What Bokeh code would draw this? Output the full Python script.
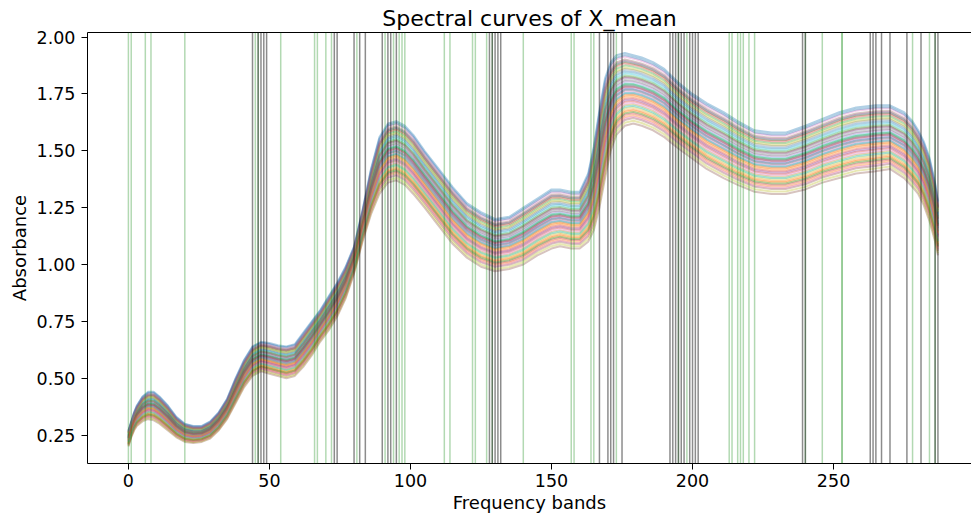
import numpy as np
from bokeh.plotting import figure
from bokeh.models import Span, LinearAxis, FixedTicker, Range1d, ColumnDataSource
from bokeh.embed import file_html
from bokeh.resources import INLINE

# ---- data ----
bands = [0, 1, 2, 3, 5, 7, 9, 11, 14, 17, 20, 23, 26, 29, 32, 35, 38, 41, 44, 47,
         50, 53, 56, 59, 62, 65, 68, 71, 74, 77, 80, 83, 86, 89, 92, 95, 98, 101,
         105, 110, 115, 120, 125, 130, 135, 140, 145, 150, 153, 157, 160, 163, 165,
         167, 169, 171, 173, 176, 179, 182, 186, 190, 195, 200, 205, 211, 216, 222,
         228, 233, 240, 246, 252, 258, 265, 270, 275, 278, 280, 282, 284, 286, 287]

lower_env = [0.20, 0.24, 0.27, 0.29, 0.31, 0.32, 0.315, 0.30, 0.27, 0.24, 0.22, 0.215,
             0.22, 0.235, 0.27, 0.32, 0.39, 0.46, 0.51, 0.53, 0.52, 0.51, 0.50, 0.51,
             0.55, 0.60, 0.66, 0.71, 0.77, 0.85, 0.96, 1.10, 1.22, 1.31, 1.36, 1.37,
             1.35, 1.31, 1.25, 1.17, 1.09, 1.03, 0.99, 0.97, 0.98, 1.00, 1.04, 1.07,
             1.08, 1.07, 1.07, 1.10, 1.15, 1.25, 1.38, 1.50, 1.57, 1.61, 1.62, 1.61,
             1.59, 1.56, 1.51, 1.465, 1.42, 1.38, 1.35, 1.32, 1.31, 1.31, 1.33, 1.36,
             1.38, 1.40, 1.41, 1.42, 1.38, 1.34, 1.31, 1.26, 1.19, 1.10, 1.04]

upper_env = [0.27, 0.31, 0.35, 0.38, 0.42, 0.44, 0.44, 0.42, 0.38, 0.33, 0.30, 0.29,
             0.29, 0.31, 0.35, 0.41, 0.50, 0.58, 0.64, 0.66, 0.655, 0.645, 0.64, 0.65,
             0.70, 0.75, 0.80, 0.86, 0.92, 0.99, 1.08, 1.24, 1.42, 1.56, 1.62, 1.63,
             1.61, 1.57, 1.50, 1.42, 1.34, 1.27, 1.23, 1.20, 1.21, 1.25, 1.29, 1.33,
             1.33, 1.32, 1.32, 1.40, 1.52, 1.68, 1.82, 1.89, 1.92, 1.93, 1.92, 1.91,
             1.89, 1.86, 1.80, 1.75, 1.71, 1.67, 1.63, 1.59, 1.58, 1.58, 1.61, 1.64,
             1.67, 1.69, 1.70, 1.70, 1.67, 1.63, 1.59, 1.54, 1.47, 1.36, 1.28]

# relative position of each sample curve inside the band of curves
sample_levels = [0.50, 0.12, 0.83, 0.37, 0.61, 0.00, 0.95, 0.44, 0.28, 0.72, 0.55, 0.19,
                 0.88, 0.33, 0.66, 0.08, 0.47, 0.78, 0.24, 0.58, 1.00, 0.40, 0.69, 0.15,
                 0.52, 0.91, 0.30, 0.63, 0.04, 0.45, 0.75, 0.21, 0.57, 0.86, 0.35, 0.67,
                 0.10, 0.49, 0.80, 0.26, 0.97, 0.42, 0.17, 0.54, 0.89]

green_bands = [0, 1, 6, 8, 20, 45, 46, 54, 66, 67, 70, 72, 81, 91, 94, 96, 97, 98,
               112, 114, 122, 123, 127, 129, 140, 157, 158, 164, 165, 173, 195, 198,
               213, 214, 216, 217, 218, 220, 222, 240, 246, 253, 253, 278, 284, 286]
black_bands = [44, 46, 47, 48, 49, 73, 74, 80, 82, 84, 90, 92, 93, 95, 128, 129, 130,
               131, 132, 167, 170, 171, 172, 175, 192, 193, 194, 195, 196, 197, 199,
               200, 201, 202, 239, 240, 263, 264, 265, 267, 270, 276, 281, 286, 287]

x_ticks = [0, 50, 100, 150, 200, 250]
y_ticks = [0.25, 0.50, 0.75, 1.00, 1.25, 1.50, 1.75, 2.00]
y_tick_labels = ["0.25", "0.50", "0.75", "1.00", "1.25", "1.50", "1.75", "2.00"]

tab10 = ['#1f77b4', '#ff7f0e', '#2ca02c', '#d62728', '#9467bd',
         '#8c564b', '#e377c2', '#7f7f7f', '#bcbd22', '#17becf']

# ---- figure ----
FONT = "DejaVu Sans"
p = figure(width=971, height=521, output_backend="svg", toolbar_location=None,
           x_range=Range1d(-14.5, 298.9), y_range=Range1d(0.125, 2.02),
           min_border_left=87, min_border_right=0, min_border_top=32,
           min_border_bottom=58, title="Spectral curves of X_mean")
p.title.text_font = FONT
p.title.text_font_size = "22px"
p.title.text_font_style = "normal"
p.title.align = "center"
p.title.text_color = "black"
p.title.standoff = 3
p.xgrid.visible = False
p.ygrid.visible = False
p.outline_line_color = None
p.background_fill_color = "white"
p.border_fill_color = "white"

lo = np.array(lower_env)
hi = np.array(upper_env)
xs, ys, cols = [], [], []
for i, lv in enumerate(sample_levels):
    xs.append(bands)
    ys.append(list(lo + lv * (hi - lo)))
    cols.append(tab10[i % 10])
src = ColumnDataSource(dict(xs=xs, ys=ys, color=cols))
p.multi_line(xs="xs", ys="ys", line_color="color", line_alpha=0.35, line_width=2,
             source=src)

for b in green_bands:
    p.add_layout(Span(location=b, dimension="height", line_color="green",
                      line_alpha=0.3, line_width=1.5))
for b in black_bands:
    p.add_layout(Span(location=b, dimension="height", line_color="black",
                      line_alpha=0.45, line_width=1.5))

for ax in (p.xaxis[0], p.yaxis[0]):
    ax.axis_line_color = "black"
    ax.axis_line_width = 1
    ax.major_tick_line_color = "black"
    ax.major_tick_out = 6
    ax.major_tick_in = 0
    ax.minor_tick_line_color = None
    ax.major_label_text_font = FONT
    ax.major_label_text_font_size = "17.5px"
    ax.major_label_text_color = "black"
    ax.axis_label_text_font = FONT
    ax.axis_label_text_font_size = "18px"
    ax.axis_label_text_font_style = "normal"
    ax.axis_label_text_color = "black"

p.xaxis[0].ticker = FixedTicker(ticks=x_ticks)
p.xaxis[0].axis_label = "Frequency bands"
p.xaxis[0].major_label_standoff = 4
p.xaxis[0].axis_label_standoff = 2
p.yaxis[0].ticker = FixedTicker(ticks=y_ticks)
p.yaxis[0].major_label_overrides = {t: s for t, s in zip(y_ticks, y_tick_labels)}
p.yaxis[0].axis_label = "Absorbance"
p.yaxis[0].major_label_standoff = 6
p.yaxis[0].axis_label_standoff = 4

top_axis = LinearAxis(ticker=FixedTicker(ticks=[]), axis_line_color="black",
                      major_tick_line_color=None, minor_tick_line_color=None,
                      major_label_text_font_size="0px")
p.add_layout(top_axis, "above")

open("out.html", "w").write(file_html(p, INLINE))
